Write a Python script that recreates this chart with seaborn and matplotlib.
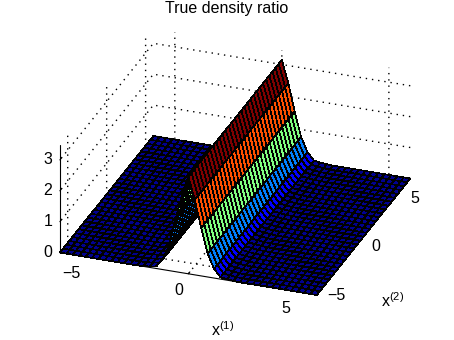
import numpy as np
import matplotlib
matplotlib.use("Agg")
import matplotlib.pyplot as plt
from matplotlib.colors import ListedColormap, BoundaryNorm
from mpl_toolkits.mplot3d import proj3d
import seaborn as sns

x1_values = [-6.0, -5.7, -5.4, -5.1, -4.8, -4.5, -4.2, -3.9, -3.6, -3.3, -3.0, -2.7, -2.4, -2.1,
             -1.8, -1.5, -1.2, -0.9, -0.6, -0.3, 0.0, 0.3, 0.6, 0.9, 1.2, 1.5, 1.8, 2.1,
             2.4, 2.7, 3.0, 3.3, 3.6, 3.9, 4.2, 4.5, 4.8, 5.1, 5.4, 5.7, 6.0]
x2_values = [-6.0, -5.6, -5.2, -4.8, -4.4, -4.0, -3.6, -3.2, -2.8, -2.4, -2.0, -1.6, -1.2, -0.8, -0.4, 0.0,
             0.4, 0.8, 1.2, 1.6, 2.0, 2.4, 2.8, 3.2, 3.6, 4.0, 4.4, 4.8, 5.2, 5.6, 6.0]
ridge_profile = [0, 0, 0, 0, 0, 0, 0, 0, 0, 0, 0, 0, 0, 0.01,
                 0.03, 0.07, 0.33, 0.8, 1.69, 2.5, 3.15, 2.43, 1.55, 0.76, 0.3, 0.06, 0.03, 0.01,
                 0, 0, 0, 0, 0, 0, 0, 0, 0, 0, 0, 0, 0]
band_colors = ["#00008f", "#0000ff", "#0080ff", "#80ff80", "#ff5000", "#800000"]
band_edges = [0, 0.15, 0.6, 1.2, 1.9, 2.65, 3.2]
axis_ticks = [-5, 0, 5]
z_ticks = [0, 1, 2, 3]
title_text = "True density ratio"

sns.set_theme(style="white")
plt.rcParams["font.family"] = ["Liberation Sans", "DejaVu Sans"]
plt.rcParams["mathtext.fontset"] = "custom"
plt.rcParams["mathtext.rm"] = "Liberation Sans"
plt.rcParams["mathtext.it"] = "Liberation Sans"
plt.rcParams["axes.unicode_minus"] = True

fig = plt.figure(figsize=(4.54, 3.40), dpi=100, facecolor="white")
ax = fig.add_axes([3.5 / 454, 3.5 / 340, 1, 1], projection="3d", proj_type="ortho", facecolor="none")
ax.view_init(elev=27, azim=-70)
ax.set_box_aspect((1, 1, 0.44), zoom=1.156)

X, Y = np.meshgrid(x1_values, x2_values)
Z = np.tile(np.array(ridge_profile, dtype=float), (len(x2_values), 1))
cmap = ListedColormap(sns.color_palette(band_colors))
norm = BoundaryNorm(band_edges, cmap.N)
surf = ax.plot_surface(X, Y, Z, rstride=1, cstride=1, facecolors=cmap(norm(Z)), shade=False,
                       edgecolor="black", linewidth=0.5, antialiased=False)
surf.set_clip_on(False)

ax.set_xlim(-6, 6); ax.set_ylim(-6, 6); ax.set_zlim(0, 3.47)
ax.set_xticks(axis_ticks); ax.set_yticks(axis_ticks); ax.set_zticks(z_ticks)
ax.set_xticklabels([]); ax.set_yticklabels([]); ax.set_zticklabels([])
ax.tick_params(colors="black")
for axis in (ax.xaxis, ax.yaxis, ax.zaxis):
    axis.set_pane_color((1, 1, 1, 0))
    axis.pane.set_edgecolor((1, 1, 1, 0))
    axis.line.set_color("black")
    axis.line.set_linewidth(0.8)
    axis._axinfo["grid"].update(color="black", linewidth=1.0, linestyle=(0, (1, 3.5)))
    axis._axinfo["tick"].update(color="black", linewidth={True: 0.8, False: 0.5},
                                inward_factor=0, outward_factor=0.2)
ax.zaxis.set_ticks_position("lower")
ax.grid(True)

for v in z_ticks:
    ax.plot([-6, -6.2], [-6, -6.07], [v, v], color="black", linewidth=0.8)

fig.canvas.draw()
proj = ax.get_proj()


def tick_label(value, x, y, z, dx, dy):
    px, py, _ = proj3d.proj_transform(x, y, z, proj)
    text = f"\u2212{abs(value)}" if value < 0 else str(value)
    ax.annotate(text, xy=(px, py), xycoords="data", xytext=(dx, dy), textcoords="offset pixels",
                ha="center", va="center", fontsize=11.5, color="black", annotation_clip=False)


for v in axis_ticks:
    tick_label(v, v, -6, 0, -10, -17)
    tick_label(v, 6, v, 0, 12, -10)
for v in z_ticks:
    tick_label(v, -6, -6, v, -12, 0)

fig.text(227 / 454, 1 - 9 / 340, title_text, ha="center", va="center", fontsize=11.5, color="black")
fig.text(223 / 454, 1 - 330 / 340, r"x$^{(1)}$", ha="center", va="center", fontsize=11.5, color="black")
fig.text(393 / 454, 1 - 301 / 340, r"x$^{(2)}$", ha="center", va="center", fontsize=11.5, color="black")
fig.savefig("out.png", dpi=100)
